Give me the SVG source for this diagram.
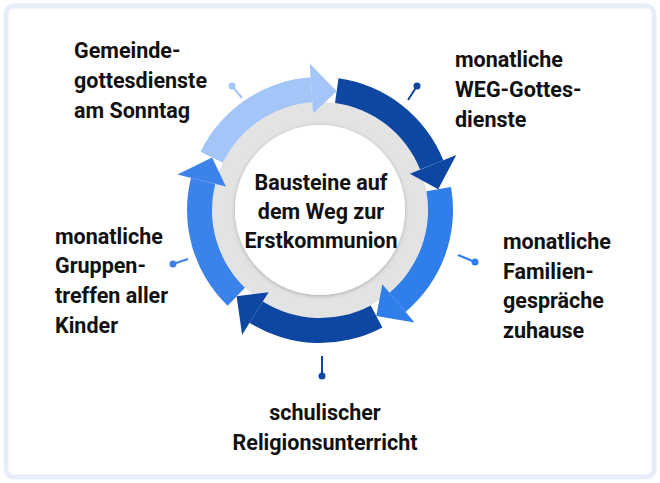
<svg xmlns="http://www.w3.org/2000/svg" width="660" height="483" viewBox="0 0 660 483">
<defs>
<style>
text{font-family:Roboto,"Liberation Sans",sans-serif;font-weight:bold;font-size:21.5px;fill:#111}
.c{text-anchor:middle}
.lt{fill:#a3c5f7}.dk{fill:#0d47a1}.md{fill:#2f7ee9}.md2{fill:#3b82ea}
</style>
<filter id="sh" x="-20%" y="-20%" width="140%" height="140%"><feDropShadow dx="0" dy="1" stdDeviation="2" flood-opacity="0.25"/></filter>
</defs>
<rect x="0" y="0" width="660" height="483" fill="#ffffff"/>
<rect x="6" y="6" width="648" height="471" rx="8" fill="#fff" stroke="#e8eef9" stroke-width="5"/>
<g id="connectors" stroke-width="2">
<line x1="242" y1="98" x2="232" y2="86" stroke="#a3c5f7"/><circle cx="232" cy="86" r="3.5" class="lt"/>
<line x1="408" y1="100" x2="417" y2="86" stroke="#0d47a1"/><circle cx="417" cy="86" r="3.5" class="dk"/>
<line x1="458" y1="255" x2="475" y2="262" stroke="#2f7ee9"/><circle cx="475" cy="262" r="3.5" class="md"/>
<line x1="322" y1="356" x2="322" y2="376" stroke="#0d47a1"/><circle cx="322" cy="376" r="3.5" class="dk"/>
<line x1="188" y1="259" x2="173" y2="264" stroke="#3b82ea"/><circle cx="173" cy="264" r="3.5" class="md2"/>
</g>
<g id="ring">
<circle cx="320" cy="210" r="96.5" fill="none" stroke="#e3e3e3" stroke-width="23"/>
<circle cx="320" cy="210" r="85" fill="#fff" filter="url(#sh)"/>
<path class="lt" d="M200.5,151.7 A133,133 0 0 1 310.7,77.3 L312.5,102.3 A108,108 0 0 0 222.9,162.7 Z"/>
<path class="dk" d="M338.5,78.3 A133,133 0 0 1 443.3,160.2 L420.1,169.5 A108,108 0 0 0 335,103 Z"/>
<path class="md" d="M451,186.9 A133,133 0 0 1 405.5,311.9 L389.4,292.7 A108,108 0 0 0 426.4,191.3 Z"/>
<path class="dk" d="M382.4,327.4 A133,133 0 0 1 249.5,322.8 L262.8,301.6 A108,108 0 0 0 370.7,305.4 Z"/>
<path class="md2" d="M227.6,305.7 A133,133 0 0 1 191,177.8 L215.2,183.9 A108,108 0 0 0 245,287.7 Z"/>
<polygon class="lt" points="309.7,63.4 336.7,91.2 313.2,113.2"/>
<polygon class="dk" points="456.3,154.9 438.2,189.2 409.9,173.7"/>
<polygon class="md" points="414.5,322.6 376.3,315.9 382.4,284.3"/>
<polygon class="dk" points="242.1,334.7 236.6,296.3 268.6,292.3"/>
<polygon class="md2" points="177.4,174.4 212.1,157.4 225.9,186.5"/>
</g>
<g id="center"><text class="c" x="321" y="190">Bausteine auf</text><text class="c" x="321" y="219">dem Weg zur</text><text class="c" x="321" y="248">Erstkommunion</text></g>
<g id="n1"><text x="74" y="58">Gemeinde-</text><text x="74" y="88">gottesdienste</text><text x="74" y="118">am Sonntag</text></g>
<g id="n2"><text x="455" y="67">monatliche</text><text x="455" y="97">WEG-Gottes-</text><text x="455" y="127">dienste</text></g>
<g id="n3"><text x="503" y="249">monatliche</text><text x="503" y="279">Familien-</text><text x="503" y="308">gespräche</text><text x="503" y="338">zuhause</text></g>
<g id="n4"><text class="c" x="325" y="420">schulischer</text><text class="c" x="325" y="450">Religionsunterricht</text></g>
<g id="n5"><text x="55" y="244">monatliche</text><text x="55" y="273">Gruppen-</text><text x="55" y="303">treffen aller</text><text x="55" y="333">Kinder</text></g>
</svg>
